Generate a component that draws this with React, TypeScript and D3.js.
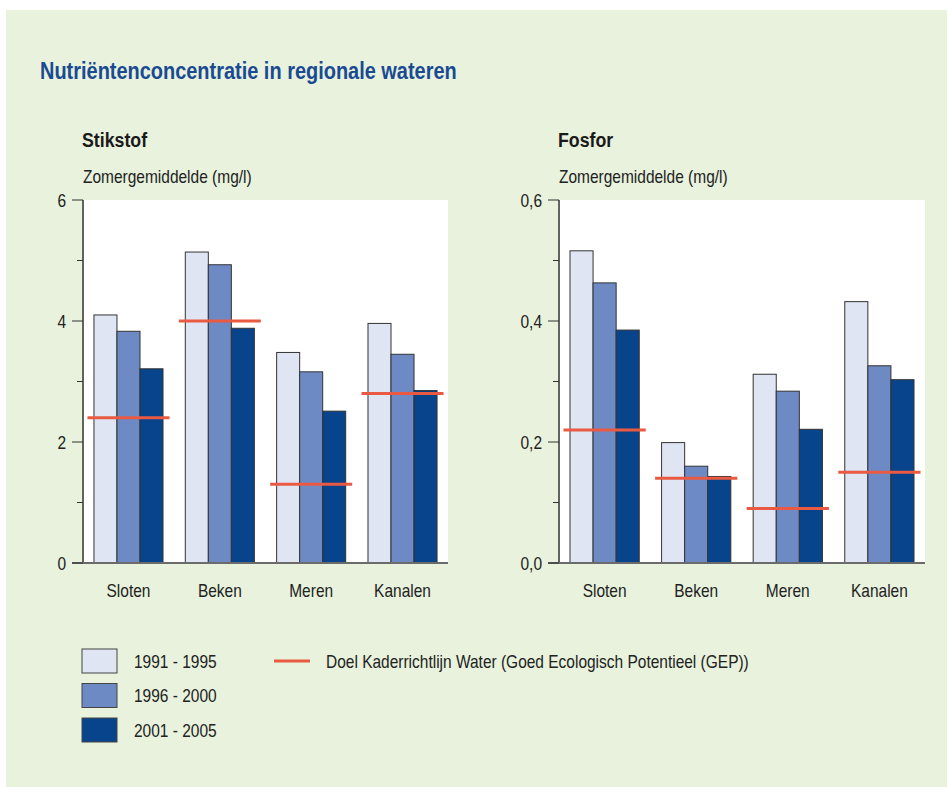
import React from "react";
import * as d3 from "d3";

const categories = ["Sloten", "Beken", "Meren", "Kanalen"];
const periods = ["1991 - 1995", "1996 - 2000", "2001 - 2005"];
const stikstof = [
  [4.1, 3.83, 3.21],
  [5.14, 4.93, 3.88],
  [3.48, 3.16, 2.51],
  [3.96, 3.45, 2.85],
];
const stikstofGoal = [2.4, 4.0, 1.3, 2.8];
const fosfor = [
  [0.516, 0.463, 0.385],
  [0.199, 0.16, 0.143],
  [0.312, 0.284, 0.221],
  [0.432, 0.326, 0.303],
];
const fosforGoal = [0.22, 0.14, 0.09, 0.15];
const stikstofTicks = [0, 2, 4, 6];
const stikstofMinor = [1, 3, 5];
const fosforTicks = [0, 0.2, 0.4, 0.6];
const fosforMinor = [0.1, 0.3, 0.5];

const colors = ["#dfe5f2", "#6e8ac4", "#07448c"];
const red = "#ea5a43";
const FONT = "'Liberation Sans', Arial, sans-serif";

type TProps = {
  x: number;
  y: number;
  size?: number;
  sx?: number;
  anchor?: "start" | "middle" | "end";
  weight?: string;
  fill?: string;
  dy?: string;
  children: React.ReactNode;
};

function T({ x, y, size = 19, sx = 0.815, anchor = "start", weight = "normal", fill = "#222", dy, children }: TProps) {
  return (
    <text
      transform={`translate(${x},${y}) scale(${sx},1)`}
      textAnchor={anchor}
      fontFamily={FONT}
      fontSize={size}
      fontWeight={weight}
      fill={fill}
      dy={dy}
    >
      {children}
    </text>
  );
}

type PanelProps = {
  left: number;
  right: number;
  title: string;
  data: number[][];
  goal: number[];
  max: number;
  ticks: number[];
  minor: number[];
  fmt: (v: number) => string;
};

function Panel({ left, right, title, data, goal, max, ticks, minor, fmt }: PanelProps) {
  const top = 200;
  const bottom = 563;
  const x = d3
    .scaleBand<string>()
    .domain(categories)
    .range([left, right])
    .paddingInner(0.244)
    .paddingOuter(0.12);
  const xi = d3
    .scaleBand<string>()
    .domain(periods)
    .range([0, x.bandwidth()])
    .padding(0);
  const y = d3.scaleLinear().domain([0, max]).range([bottom, top]);
  return (
    <g>
      <T x={left - 1} y={147} size={21} sx={0.845} weight="bold" fill="#1a1a1a">
        {title}
      </T>
      <T x={left} y={183}>
        Zomergemiddelde (mg/l)
      </T>
      <rect x={left + 1} y={top} width={right - left - 1} height={bottom - top} fill="#ffffff" />
      {categories.map((c, ci) => (
        <g key={c}>
          {periods.map((p, pi) => (
            <rect
              key={p}
              x={(x(c) as number) + (xi(p) as number)}
              y={y(data[ci][pi])}
              width={xi.bandwidth()}
              height={y(0) - y(data[ci][pi])}
              fill={colors[pi]}
              stroke="#333"
              strokeWidth={1}
            />
          ))}
        </g>
      ))}
      {categories.map((c, ci) => (
        <line
          key={"g" + c}
          x1={(x(c) as number) - 6.5}
          x2={(x(c) as number) + x.bandwidth() + 6.5}
          y1={y(goal[ci])}
          y2={y(goal[ci])}
          stroke={red}
          strokeWidth={3}
        />
      ))}
      <line x1={left} x2={left} y1={top} y2={bottom} stroke="#333" strokeWidth={1.5} />
      <line x1={left - 11} x2={right} y1={bottom} y2={bottom} stroke="#6b6b6b" strokeWidth={2} />
      {ticks.map((t) => (
        <g key={"t" + t}>
          <line x1={left - 11} x2={left} y1={y(t)} y2={y(t)} stroke="#333" strokeWidth={1} />
          <T x={left - 17} y={y(t)} dy="0.35em" anchor="end">
            {fmt(t)}
          </T>
        </g>
      ))}
      {minor.map((t) => (
        <line key={"m" + t} x1={left - 6} x2={left} y1={y(t)} y2={y(t)} stroke="#333" strokeWidth={1} />
      ))}
      {categories.map((c) => (
        <T key={"l" + c} x={(x(c) as number) + x.bandwidth() / 2} y={597} anchor="middle">
          {c}
        </T>
      ))}
    </g>
  );
}

export default function App() {
  const fmtN = (v: number) => d3.format("d")(v);
  const fmtP = (v: number) => d3.format(".1f")(v).replace(".", ",");
  const legendY = [649, 683.5, 718];
  return (
    <svg width={950} height={787} style={{ position: "absolute", left: 0, top: 0 }}>
      <rect x={0} y={0} width={950} height={787} fill="#ffffff" />
      <rect x={6} y={10} width={941} height={777} fill="#e8f2dd" />
      <T x={40} y={79} size={23} sx={0.868} weight="bold" fill="#1a4a92">
        Nutriëntenconcentratie in regionale wateren
      </T>
      <Panel
        left={83}
        right={448}
        title="Stikstof"
        data={stikstof}
        goal={stikstofGoal}
        max={6}
        ticks={stikstofTicks}
        minor={stikstofMinor}
        fmt={fmtN}
      />
      <Panel
        left={559}
        right={925}
        title="Fosfor"
        data={fosfor}
        goal={fosforGoal}
        max={0.6}
        ticks={fosforTicks}
        minor={fosforMinor}
        fmt={fmtP}
      />
      {periods.map((p, i) => (
        <g key={p}>
          <rect x={82} y={legendY[i]} width={35} height={24} fill={colors[i]} stroke="#444" strokeWidth={1} />
          <T x={134} y={legendY[i] + 12} dy="0.35em">
            {p}
          </T>
        </g>
      ))}
      <line x1={274} x2={310} y1={661} y2={661} stroke={red} strokeWidth={3} />
      <T x={326} y={661} dy="0.35em">
        Doel Kaderrichtlijn Water (Goed Ecologisch Potentieel (GEP))
      </T>
    </svg>
  );
}
